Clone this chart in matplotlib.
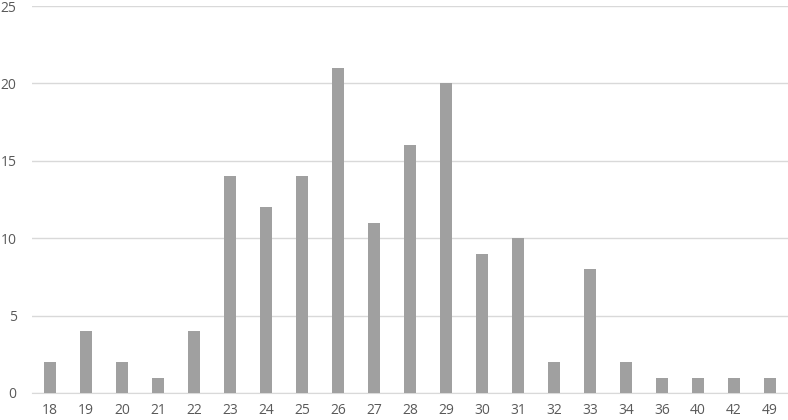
import matplotlib.pyplot as plt
import numpy as np

############## DATA ##############
ages = ["18", "19", "20", "21", "22", "23", "24", "25", "26", "27", "28",
        "29", "30", "31", "32", "33", "34", "36", "40", "42", "49"]
counts = [2, 4, 2, 1, 4, 14, 12, 14, 21, 11, 16, 20, 9, 10, 2, 8, 2, 1, 1, 1, 1]
yticks = [0, 5, 10, 15, 20, 25]

############## PLOT ##############
plt.rcParams['font.family'] = ['Open Sans', 'DejaVu Sans']

fig = plt.figure(figsize=(7.88, 4.2), dpi=100)
ax = fig.add_axes([32 / 788, 27 / 420, 756 / 788, 387 / 420])

x = np.arange(len(ages))
ax.bar(x, counts, width=0.33, color='#a0a0a0', zorder=3)

ax.set_xlim(-0.5, len(ages) - 0.5)
ax.set_ylim(0, 25)
ax.set_xticks(x)
ax.set_xticklabels(ages)
ax.set_yticks(yticks)

ax.grid(axis='y', color='#d9d9d9', linewidth=1, zorder=0)
for s in ['top', 'right', 'left']:
    ax.spines[s].set_visible(False)
ax.spines['bottom'].set_color('#d9d9d9')
ax.tick_params(axis='both', length=0, colors='#595959', labelsize=10)
ax.tick_params(axis='x', pad=7)
ax.tick_params(axis='y', pad=11)

fig.savefig('out.png', dpi=100)
